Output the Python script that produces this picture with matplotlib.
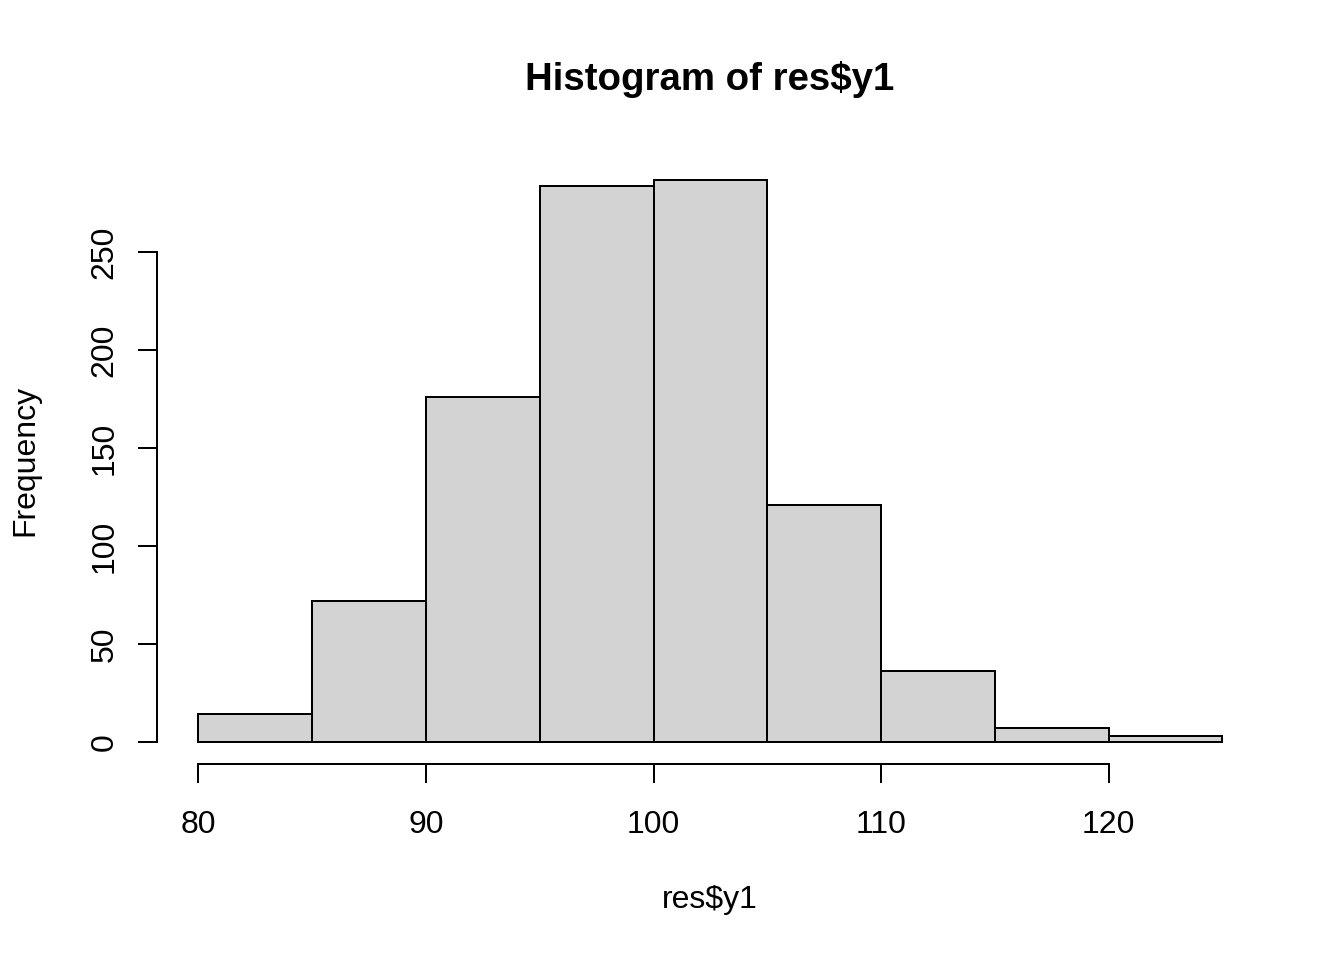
import matplotlib
matplotlib.use("Agg")
import matplotlib.pyplot as plt
import numpy as np

plt.rcParams['font.family'] = ['Liberation Sans', 'DejaVu Sans']

# Data
bin_edges = [80, 85, 90, 95, 100, 105, 110, 115, 120, 125]
counts = [14, 72, 176, 284, 287, 121, 36, 7, 3]
x_ticks = [80, 90, 100, 110, 120]
y_ticks = [0, 50, 100, 150, 200, 250]
title = "Histogram of res$y1"
xlabel = "res$y1"
ylabel = "Frequency"

fig = plt.figure(figsize=(7, 5), dpi=192)
ax = fig.add_axes([0.82 / 7, 1.02 / 5, 1 - (0.82 + 0.42) / 7, 1 - (1.02 + 0.82) / 5])

lefts = np.array(bin_edges[:-1])
widths = np.diff(bin_edges)
ax.bar(lefts, counts, width=widths, align='edge', color='#D3D3D3',
       edgecolor='black', linewidth=0.75)

xr = bin_edges[-1] - bin_edges[0]
ax.set_xlim(bin_edges[0] - 0.04 * xr, bin_edges[-1] + 0.04 * xr)
ym = max(counts)
ax.set_ylim(-0.04 * ym, 1.04 * ym)

for s in ['top', 'right']:
    ax.spines[s].set_visible(False)
ax.spines['left'].set_bounds(y_ticks[0], y_ticks[-1])
ax.spines['bottom'].set_bounds(x_ticks[0], x_ticks[-1])
for s in ['left', 'bottom']:
    ax.spines[s].set_linewidth(0.75)

ax.set_xticks(x_ticks)
ax.set_yticks(y_ticks)
ax.set_xticklabels([str(v) for v in x_ticks])
ax.set_yticklabels([str(v) for v in y_ticks], rotation=90)
for lab in ax.get_yticklabels():
    lab.set_va('center')
ax.tick_params(axis='x', length=7.2, width=0.75, pad=10, labelsize=12)
ax.tick_params(axis='y', length=7.2, width=0.75, pad=7, labelsize=12)

fig.text(710 / 1344, 1 - 80 / 960, title, ha='center', va='center',
         fontsize=14.4, fontweight='bold', parse_math=False)
fig.text(710 / 1344, 1 - 900 / 960, xlabel, ha='center', va='center',
         fontsize=12, parse_math=False)
fig.text(25 / 1344, 1 - 460 / 960, ylabel, ha='center', va='center',
         fontsize=12, rotation=90)

fig.savefig("out.png", dpi=192)
